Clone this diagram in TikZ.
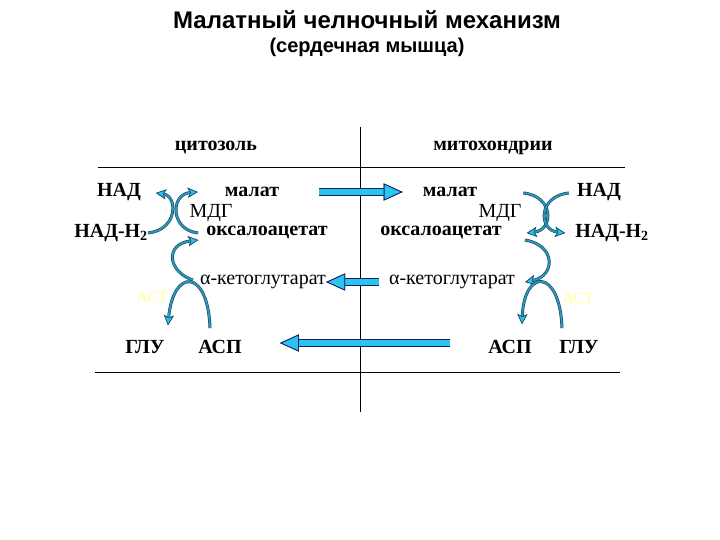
\documentclass[tikz,border=0pt]{standalone}
\usepackage{fontspec}
\setmainfont{Liberation Serif}
\newfontfamily\titlefont{Liberation Sans}
\usepackage{xcolor}
\usetikzlibrary{arrows.meta,positioning,calc}

\definecolor{arrcyan}{RGB}{45,195,240}
\definecolor{arrnavy}{RGB}{15,35,95}
\definecolor{curvcol}{RGB}{45,150,185}
\definecolor{curvdark}{RGB}{20,75,95}
\definecolor{astyellow}{RGB}{255,255,150}

\begin{document}
\begin{tikzpicture}[
  x=1pt, y=-1pt,
  lbl/.style={inner sep=0pt, font=\fontsize{20}{23}\selectfont\bfseries},
  lblrm/.style={inner sep=0pt, font=\fontsize{20}{23}\selectfont},
  head/.style={inner sep=0pt, font=\fontsize{20}{23}\selectfont\bfseries},
  asttxt/.style={inner sep=0pt, text=astyellow, font=\fontsize{16}{20}\selectfont},
  fat/.style={line width=6pt, draw=arrcyan,
              preaction={draw=arrnavy, line width=7.4pt},
              -{Triangle[length=19pt, width=17pt, color=arrnavy, fill=arrcyan, line width=0.8pt]}},
  curv/.style={line width=1.8pt, draw=curvcol,
               preaction={draw=curvdark, line width=3pt},
               -{Stealth[length=10pt, width=10pt, inset=2.5pt, color=curvdark, fill=arrcyan, line width=0.6pt]}},
  rule/.style={draw=black, line width=0.7pt}
]
\useasboundingbox (0,0) rectangle (720,540);

% title
\node[font=\titlefont\fontsize{24}{28}\selectfont\bfseries] (title) at (367,20)
  {Малатный челночный механизм};
\node[font=\titlefont\fontsize{20}{24}\selectfont\bfseries] (subtitle) at (367,47)
  {(сердечная мышца)};

% compartments
\node[head] (cyto) at (216,148) {цитозоль};
\node[head] (mito) at (493,148) {митохондрии};
\draw[rule, line width=1pt] (360,127) -- (360,412);
\draw[rule] (98,167) -- (625,167);
\draw[rule] (95,372) -- (620,372);

% cytosol
\node[lbl]     (nadL)  at (119,192) {НАД};
\node[lbl]     (malL)  at (252,192) {малат};
\node[lblrm]   (mdgL)  at (211,213) {МДГ};
\node[lbl]     (nadhL) at (111,233) {НАД-Н\textsubscript{2}};
\node[lbl]     (oaaL)  at (267,233) {оксалоацетат};
\node[lblrm]   (akgL)  at (263,282) {α-кетоглутарат};
\node[asttxt]  (astL)  at (152,297) {АСТ};
\node[lbl]     (gluL)  at (145,347) {ГЛУ};
\node[lbl]     (aspL)  at (220,347) {АСП};

% mitochondria
\node[lbl]     (malR)  at (450,192) {малат};
\node[lbl]     (nadR)  at (599,192) {НАД};
\node[lblrm]   (mdgR)  at (500,213) {МДГ};
\node[lbl]     (oaaR)  at (441,233) {оксалоацетат};
\node[lbl]     (nadhR) at (612,233) {НАД-Н\textsubscript{2}};
\node[lblrm]   (akgR)  at (452,282) {α-кетоглутарат};
\node[asttxt]  (astR)  at (578,298) {АСТ};
\node[lbl]     (aspR)  at (510,347) {АСП};
\node[lbl]     (gluR)  at (579,347) {ГЛУ};

% transport across the membrane
\draw[fat, shorten <=40pt, shorten >=20pt] (malL.east) -- (malR.west);
\draw[fat, shorten <=10pt] (akgR.west) -- (akgL.east);
\draw[fat, shorten <=38pt, shorten >=38pt]
  ($(aspR.west)+(0,-4)$) -- ($(aspL.east)+(0,-4)$);

% cytosolic reactions
\draw[curv] (nadhL.east) .. controls (178,230) and (178,196) .. ($(nadL.east)+(15,1)$);
\draw[curv] ($(oaaL.west)+(-8,0)$) .. controls (170,230) and (170,194) .. ($(malL.west)+(-27,0)$);
\draw[curv] ($(akgL.west)+(-7,-2)$) .. controls (168,272) and (164,244) .. ($(oaaL.west)+(-8,7)$);
\draw[curv] ($(aspL.north)+(-10,-12)$) .. controls (208,268) and (173,268) .. ($(gluL.north)+(23,-15)$);

% mitochondrial reactions
\draw[curv] ($(malR.east)+(46,1)$) .. controls (554,196) and (554,230) .. ($(oaaR.east)+(25,0)$);
\draw[curv] ($(nadR.west)+(-8,1)$) .. controls (538,196) and (538,230) .. ($(nadhR.west)+(-10,0)$);
\draw[curv] ($(oaaR.east)+(23,7)$) .. controls (556,245) and (556,276) .. ($(akgR.east)+(10,0)$);
\draw[curv] ($(gluR.north)+(-17,-12)$) .. controls (560,268) and (524,268) .. ($(aspR.north)+(12,-16)$);

\end{tikzpicture}
\end{document}
